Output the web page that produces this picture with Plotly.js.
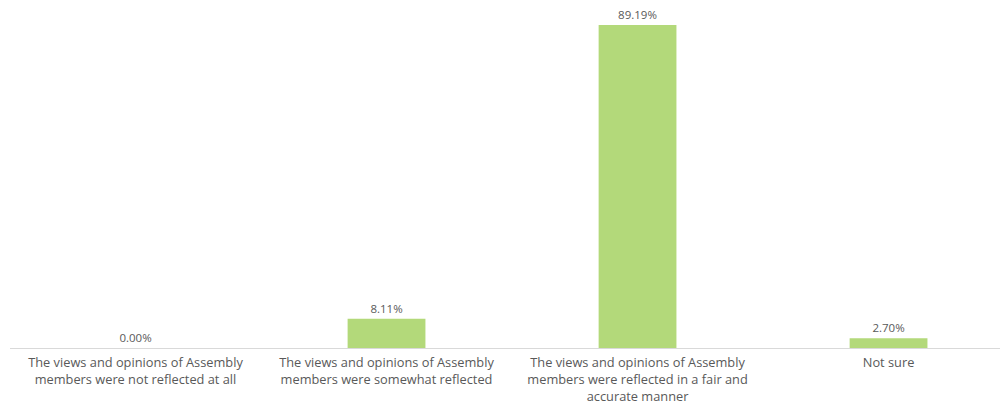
<!DOCTYPE html>
<html>
<head>
<meta charset="utf-8">
<script src="https://cdn.plot.ly/plotly-3.0.1.min.js"></script>
<style>html,body{margin:0;padding:0;background:#fff;}#chart{width:1000px;height:414px;}</style>
</head>
<body>
<div id="chart"></div>
<script>
const categories = ["cat1", "cat2", "cat3", "cat4"];
const tickLabels = [
  "The views and opinions of Assembly<br>members were not reflected at all",
  "The views and opinions of Assembly<br>members were somewhat reflected",
  "The views and opinions of Assembly<br>members were reflected in a fair and<br>accurate manner",
  "Not sure"
];
const values = [0.00, 8.11, 89.19, 2.70];
const valueLabels = values.map(v => v.toFixed(2) + "%");

const trace = {
  type: "bar",
  x: categories,
  y: values,
  text: valueLabels,
  textposition: "outside",
  cliponaxis: false,
  textfont: {family: "Open Sans, sans-serif", size: 11.5, color: "#595959"},
  marker: {color: "#b3d97a"},
  width: 0.31,
  hoverinfo: "skip"
};

const layout = {
  width: 1000, height: 414,
  margin: {l: 10, r: 0, t: 0, b: 66},
  paper_bgcolor: "#ffffff", plot_bgcolor: "#ffffff",
  showlegend: false,
  font: {family: "Open Sans, sans-serif", color: "#595959"},
  xaxis: {
    type: "category",
    range: [-0.5, 3.444],
    tickvals: categories,
    ticktext: tickLabels,
    tickfont: {family: "Open Sans, sans-serif", size: 12.8, color: "#595959"},
    ticklabelstandoff: 3,
    showline: true, linecolor: "#d9d9d9", linewidth: 1,
    ticks: "", showgrid: false, zeroline: false,
    tickangle: 0
  },
  yaxis: {
    range: [0, 96.1],
    visible: false, showgrid: false, zeroline: false
  }
};

Plotly.newPlot("chart", [trace], layout, {displayModeBar: false, staticPlot: true});
</script>
</body>
</html>
